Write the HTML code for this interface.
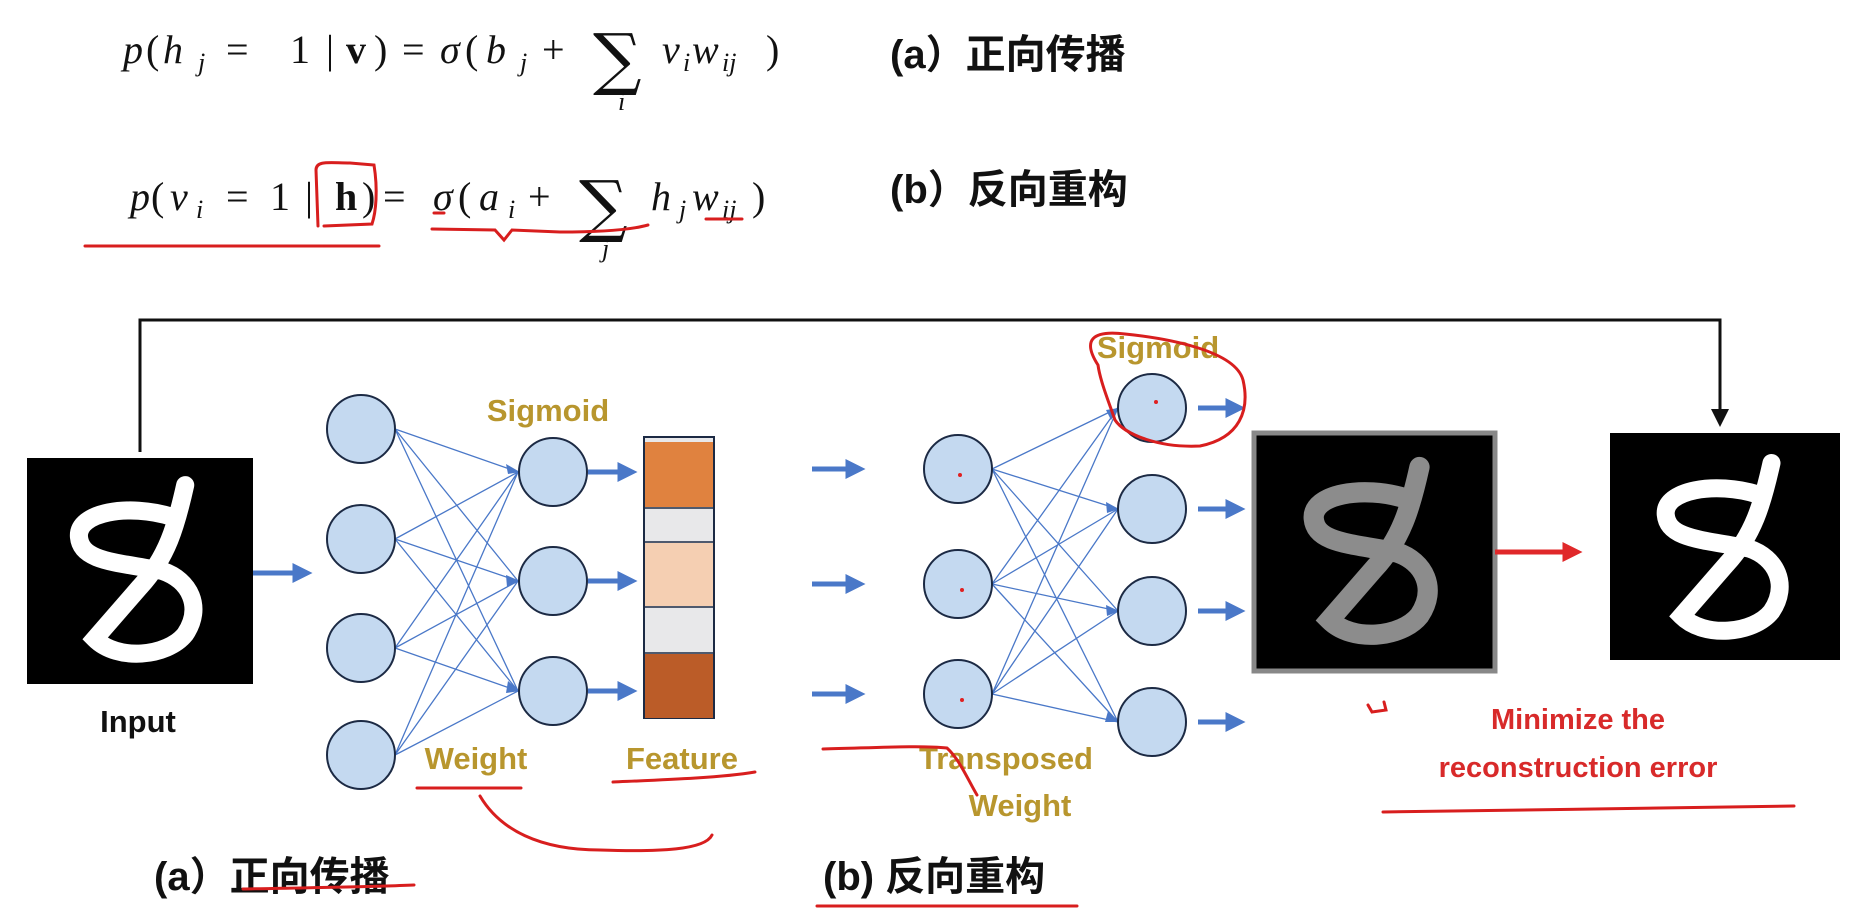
<!DOCTYPE html>
<html><head><meta charset="utf-8"><style>
html,body{margin:0;padding:0;background:#fff;}
svg{display:block}
.m{font-family:"Liberation Serif",serif;font-size:40px;fill:#111}
.i{font-style:italic}
.sb{font-family:"Liberation Serif",serif;font-style:italic;font-size:26px;fill:#111}
.s{font-family:"DejaVu Serif",serif;font-size:68px;fill:#111}
.cj{font-family:"Liberation Sans","Noto Sans CJK SC",sans-serif;font-weight:bold;font-size:40px;fill:#111}
.g{font-family:"Liberation Sans",sans-serif;font-weight:bold;font-size:31px;fill:#b8962e;text-anchor:middle}
.r{font-family:"Liberation Sans",sans-serif;font-weight:bold;font-size:29px;fill:#d82a2a;text-anchor:middle}
</style></head><body>
<svg width="1854" height="912" viewBox="0 0 1854 912" xmlns="http://www.w3.org/2000/svg">
<defs>
<marker id="ab" markerWidth="4" markerHeight="4" refX="2.5" refY="2" orient="auto"><path d="M0,0 L4,2 L0,4z" fill="#4a78c8"/></marker>
<marker id="ak" markerWidth="6" markerHeight="6" refX="5" refY="3" orient="auto"><path d="M0,0 L6,3 L0,6z" fill="#111"/></marker>
<marker id="ar" markerWidth="4" markerHeight="4" refX="2.5" refY="2" orient="auto"><path d="M0,0 L4,2 L0,4z" fill="#e0282a"/></marker>
<path id="eight" d="M70,12 C66,30 62,44 50,57 L30,80 C40,90 62,88 70,78 C78,66 72,54 60,50 C40,46 24,46 23,35 C22,24 45,20 64,26" fill="none"/>
</defs>

<!-- formula 1 -->
<g class="m">
<text class="m i" x="123" y="63">p</text><text class="m" x="146" y="63">(</text><text class="m i" x="163" y="63">h</text><text class="sb" x="198" y="71">j</text>
<text class="m" x="226" y="63">=</text><text class="m" x="290" y="63">1</text><text class="m" x="326" y="63">|</text><text class="m" x="346" y="63" font-weight="bold">v</text><text class="m" x="374" y="63">)</text>
<text class="m" x="402" y="63">=</text><text class="m i" x="440" y="63">σ</text><text class="m" x="465" y="63">(</text><text class="m i" x="486" y="63">b</text><text class="sb" x="520" y="71">j</text><text class="m" x="542" y="63">+</text>
<text class="s" x="593" y="82">∑</text><text class="sb" x="618" y="110">i</text>
<text class="m i" x="662" y="63">v</text><text class="sb" x="683" y="71">i</text><text class="m i" x="692" y="63">w</text><text class="sb" x="722" y="71">ij</text><text class="m" x="766" y="63">)</text>
</g>
<text class="cj" x="890" y="68">(a）正向传播</text>

<!-- formula 2 -->
<text class="m i" x="130" y="210">p</text><text class="m" x="151" y="210">(</text><text class="m i" x="170" y="210">v</text><text class="sb" x="196" y="218">i</text>
<text class="m" x="226" y="210">=</text><text class="m" x="270" y="210">1</text><text class="m" x="305" y="210">|</text><text class="m" x="335" y="210" font-weight="bold">h</text><text class="m" x="362" y="210">)</text>
<text class="m" x="383" y="210">=</text><text class="m i" x="433" y="210">σ</text><text class="m" x="458" y="210">(</text><text class="m i" x="479" y="210">a</text><text class="sb" x="508" y="218">i</text><text class="m" x="528" y="210">+</text>
<text class="s" x="579" y="229">∑</text><text class="sb" x="602" y="257">j</text>
<text class="m i" x="651" y="210">h</text><text class="sb" x="679" y="218">j</text><text class="m i" x="692" y="210">w</text><text class="sb" x="722" y="218">ij</text><text class="m" x="752" y="210">)</text>
<text class="cj" x="890" y="203">(b）反向重构</text>

<!-- feedback line -->
<polyline points="140,452 140,320 1720,320 1720,424" fill="none" stroke="#111" stroke-width="3" marker-end="url(#ak)"/>

<!-- input image -->
<rect x="27" y="458" width="226" height="226" fill="#000"/>
<g transform="translate(27,458) scale(2.26)"><use href="#eight" stroke="#fff" stroke-width="8" stroke-linecap="round"/></g>
<text x="138" y="732" font-family="Liberation Sans,sans-serif" font-weight="bold" font-size="31" text-anchor="middle" fill="#111">Input</text>
<line x1="253" y1="573" x2="305" y2="573" stroke="#4a78c8" stroke-width="5" marker-end="url(#ab)"/>

<!-- left net connections -->
<g stroke="#4a78c8" stroke-width="1.3" fill="none">
<path d="M395,429L518,472M395,429L518,581M395,429L518,691M395,539L518,472M395,539L518,581M395,539L518,691M395,648L518,472M395,648L518,581M395,648L518,691M395,755L518,472M395,755L518,581M395,755L518,691"/>
</g>
<g fill="#4a78c8"><path d="M520,472l-14,-8l2,10z"/><path d="M520,581l-14,-6l1,12z"/><path d="M520,691l-12,-10l-2,12z"/></g>
<g fill="#c4d9f0" stroke="#1c2a44" stroke-width="2">
<ellipse cx="361" cy="429" rx="34" ry="34"/><ellipse cx="361" cy="539" rx="34" ry="34"/><ellipse cx="361" cy="648" rx="34" ry="34"/><ellipse cx="361" cy="755" rx="34" ry="34"/>
<ellipse cx="553" cy="472" rx="34" ry="34"/><ellipse cx="553" cy="581" rx="34" ry="34"/><ellipse cx="553" cy="691" rx="34" ry="34"/>
</g>
<g stroke="#4a78c8" stroke-width="5" marker-end="url(#ab)">
<line x1="588" y1="472" x2="630" y2="472"/><line x1="588" y1="581" x2="630" y2="581"/><line x1="588" y1="691" x2="630" y2="691"/>
</g>
<text class="g" x="548" y="421">Sigmoid</text>

<!-- feature bar -->
<rect x="644" y="437" width="70" height="281" fill="#e8e8ea" stroke="#1c2a44" stroke-width="2"/>
<rect x="645" y="442" width="68" height="65" fill="#e0823f"/>
<rect x="645" y="543" width="68" height="63" fill="#f5cfb2"/>
<rect x="645" y="654" width="68" height="64" fill="#bb5c28"/>
<g stroke="#1c2a44" stroke-width="1.5"><line x1="644" y1="508" x2="714" y2="508"/><line x1="644" y1="542" x2="714" y2="542"/><line x1="644" y1="607" x2="714" y2="607"/><line x1="644" y1="653" x2="714" y2="653"/></g>
<text class="g" x="476" y="769">Weight</text>
<text class="g" x="682" y="769">Feature</text>

<!-- right net -->
<g stroke="#4a78c8" stroke-width="5" marker-end="url(#ab)">
<line x1="812" y1="469" x2="858" y2="469"/><line x1="812" y1="584" x2="858" y2="584"/><line x1="812" y1="694" x2="858" y2="694"/>
<line x1="1198" y1="408" x2="1238" y2="408"/><line x1="1198" y1="509" x2="1238" y2="509"/><line x1="1198" y1="611" x2="1238" y2="611"/><line x1="1198" y1="722" x2="1238" y2="722"/>
</g>
<g stroke="#4a78c8" stroke-width="1.3">
<path d="M992,469L1118,408M992,469L1118,509M992,469L1118,611M992,469L1118,722M992,584L1118,408M992,584L1118,509M992,584L1118,611M992,584L1118,722M992,694L1118,408M992,694L1118,509M992,694L1118,611M992,694L1118,722"/>
</g>
<g fill="#4a78c8"><path d="M1119,408l-13,2l5,10z"/><path d="M1119,509l-13,-7l1,11z"/><path d="M1119,611l-13,-6l1,11z"/><path d="M1119,722l-11,-11l-3,11z"/></g>
<g fill="#c4d9f0" stroke="#1c2a44" stroke-width="2">
<ellipse cx="958" cy="469" rx="34" ry="34"/><ellipse cx="958" cy="584" rx="34" ry="34"/><ellipse cx="958" cy="694" rx="34" ry="34"/>
<ellipse cx="1152" cy="408" rx="34" ry="34"/><ellipse cx="1152" cy="509" rx="34" ry="34"/><ellipse cx="1152" cy="611" rx="34" ry="34"/><ellipse cx="1152" cy="722" rx="34" ry="34"/>
</g>
<g fill="#e02020"><circle cx="960" cy="475" r="2"/><circle cx="962" cy="590" r="2"/><circle cx="962" cy="700" r="2"/><circle cx="1156" cy="402" r="2"/></g>
<text class="g" x="1158" y="358">Sigmoid</text>
<text class="g" x="1006" y="769">Transposed</text>
<text class="g" x="1020" y="816">Weight</text>

<!-- recon image -->
<rect x="1254" y="433" width="241" height="238" fill="#000" stroke="#888" stroke-width="5"/>
<g transform="translate(1262,440) scale(2.25)"><use href="#eight" stroke="#8c8c8c" stroke-width="9" stroke-linecap="round"/></g>
<line x1="1495" y1="552" x2="1575" y2="552" stroke="#e0282a" stroke-width="5" marker-end="url(#ar)"/>
<!-- output image -->
<rect x="1610" y="433" width="230" height="227" fill="#000"/>
<g transform="translate(1614,436) scale(2.25)"><use href="#eight" stroke="#fff" stroke-width="8" stroke-linecap="round"/></g>

<text class="r" x="1578" y="729">Minimize the</text>
<text class="r" x="1578" y="777">reconstruction error</text>

<text class="cj" x="154" y="890">(a）正向传播</text>
<text class="cj" x="823" y="890">(b) 反向重构</text>

<!-- red annotations -->
<g fill="none" stroke="#d81e1e" stroke-width="3" stroke-linecap="round">
<path d="M85,246 L379,246"/>
<path d="M318,226 L316,170 C316,160 330,163 350,163 L374,165 C378,190 376,212 372,224 L324,226"/>
<path d="M432,229 L495,230 L504,240 L512,230 L560,232 C600,232 630,230 648,225"/>
<path d="M434,213 L444,213"/>
<path d="M706,219 L742,219"/>
<path d="M417,788 L521,788"/>
<path d="M480,796 C500,830 540,850 600,850 C660,852 705,850 712,835"/>
<path d="M613,782 C660,780 720,778 755,772"/>
<path d="M823,749 C870,748 920,745 947,748 C960,760 968,780 977,795"/>
<path d="M1098,365 C1082,340 1092,330 1125,334 C1165,338 1235,350 1243,380 C1250,410 1240,438 1200,446 C1160,448 1125,435 1115,420 C1108,400 1100,380 1098,365"/>
<path d="M1368,705 L1372,712 L1386,710 L1384,702"/>
<path d="M1383,812 C1500,810 1700,808 1794,806"/>
<path d="M243,889 C290,888 370,887 414,885"/>
<path d="M817,906 L1077,906"/>
</g>
</svg>
</body></html>
